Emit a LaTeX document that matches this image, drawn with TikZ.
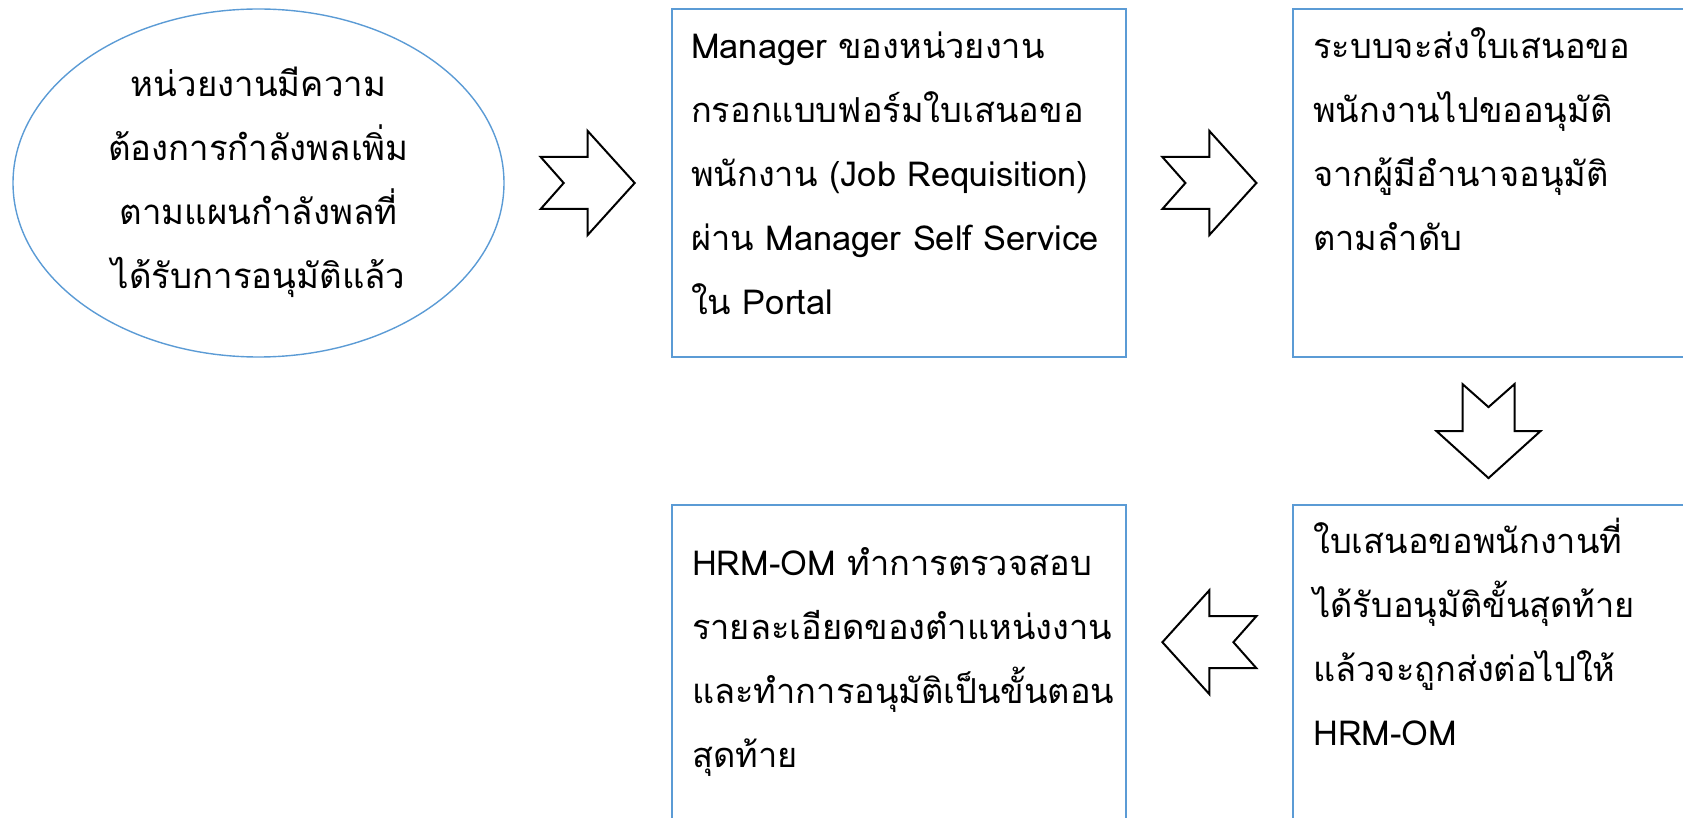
\documentclass[tikz,border=0pt]{standalone}
\usepackage{fontspec}
\setmainfont[Script=Thai]{Loma}
\usepackage{xcolor}
\usetikzlibrary{shapes.geometric, positioning, calc}

\definecolor{boxblue}{RGB}{91,155,213}

\tikzset{
  stepbox/.style={draw=boxblue, line width=1.1pt, minimum width=227pt, minimum height=174pt, inner sep=0pt},
  narrowbox/.style={stepbox, minimum width=195.5pt},
  steptext/.style={anchor=north west, align=left, inner sep=0pt, font=\fontsize{17.2}{32}\selectfont},
  pics/blockarrow/.style={code={
    \draw[line width=1pt, line join=miter, fill=white] (-47,-26) -- (0,-26) -- (0,-52) -- (47,0) -- (0,52) -- (0,26) -- (-47,26) -- (-24,0) -- cycle;
  }}
}

\begin{document}
\begin{tikzpicture}[x=0.5pt, y=-0.5pt]
\useasboundingbox (0,0) rectangle (1683,818);
\clip (0,0) rectangle (1683,818);

% Need
\node[ellipse, draw=boxblue, line width=0.7pt, minimum width=245.5pt, minimum height=174pt, inner sep=0pt] (need) at (258.5,183) {};
\node[steptext, anchor=north, align=center, font=\fontsize{17.4}{32}\selectfont] (needtext) at ([shift={(0,43)}]need.north)
  {\strut หน่วยงานมีความ\\ต้องการกำลังพลเพิ่ม\\ตามแผนกำลังพลที่\\ได้รับการอนุมัติแล้ว};

% Boxes
\node[stepbox, right=83pt of need] (form) {};
\node[narrowbox, right=82.5pt of form] (approve) {};
\node[narrowbox, below=73pt of approve] (final) {};
\node[stepbox, left=82.5pt of final] (check) {};

% Texts
\node[steptext] (formtext) at ([shift={(20,5)}]form.north west)
  {\strut Manager ของหน่วยงาน\\กรอกแบบฟอร์มใบเสนอขอ\\พนักงาน (Job Requisition)\\ผ่าน Manager Self Service\\ใน Portal};
\node[steptext] (approvetext) at ([shift={(21,5)}]approve.north west)
  {\strut ระบบจะส่งใบเสนอขอ\\พนักงานไปขออนุมัติ\\จากผู้มีอำนาจอนุมัติ\\ตามลำดับ};
\node[steptext] (finaltext) at ([shift={(21,4)}]final.north west)
  {\strut ใบเสนอขอพนักงานที่\\ได้รับอนุมัติขั้นสุดท้าย\\แล้วจะถูกส่งต่อไปให้\\HRM-OM};
\node[steptext] (checktext) at ([shift={(21,26)}]check.north west)
  {\strut HRM-OM ทำการตรวจสอบ\\รายละเอียดของตำแหน่งงาน\\และทำการอนุมัติเป็นขั้นตอน\\สุดท้าย};

% Arrows
\pic at ($(need.east)!0.5!(form.west)$) {blockarrow};
\pic at ($(form.east)!0.5!(approve.west)$) {blockarrow};
\pic[rotate=-90] at ($(approve.south)!0.5!(final.north)$) {blockarrow};
\pic[rotate=180] at ($(final.west)!0.5!(check.east)+(0,-37)$) {blockarrow};
\end{tikzpicture}
\end{document}
